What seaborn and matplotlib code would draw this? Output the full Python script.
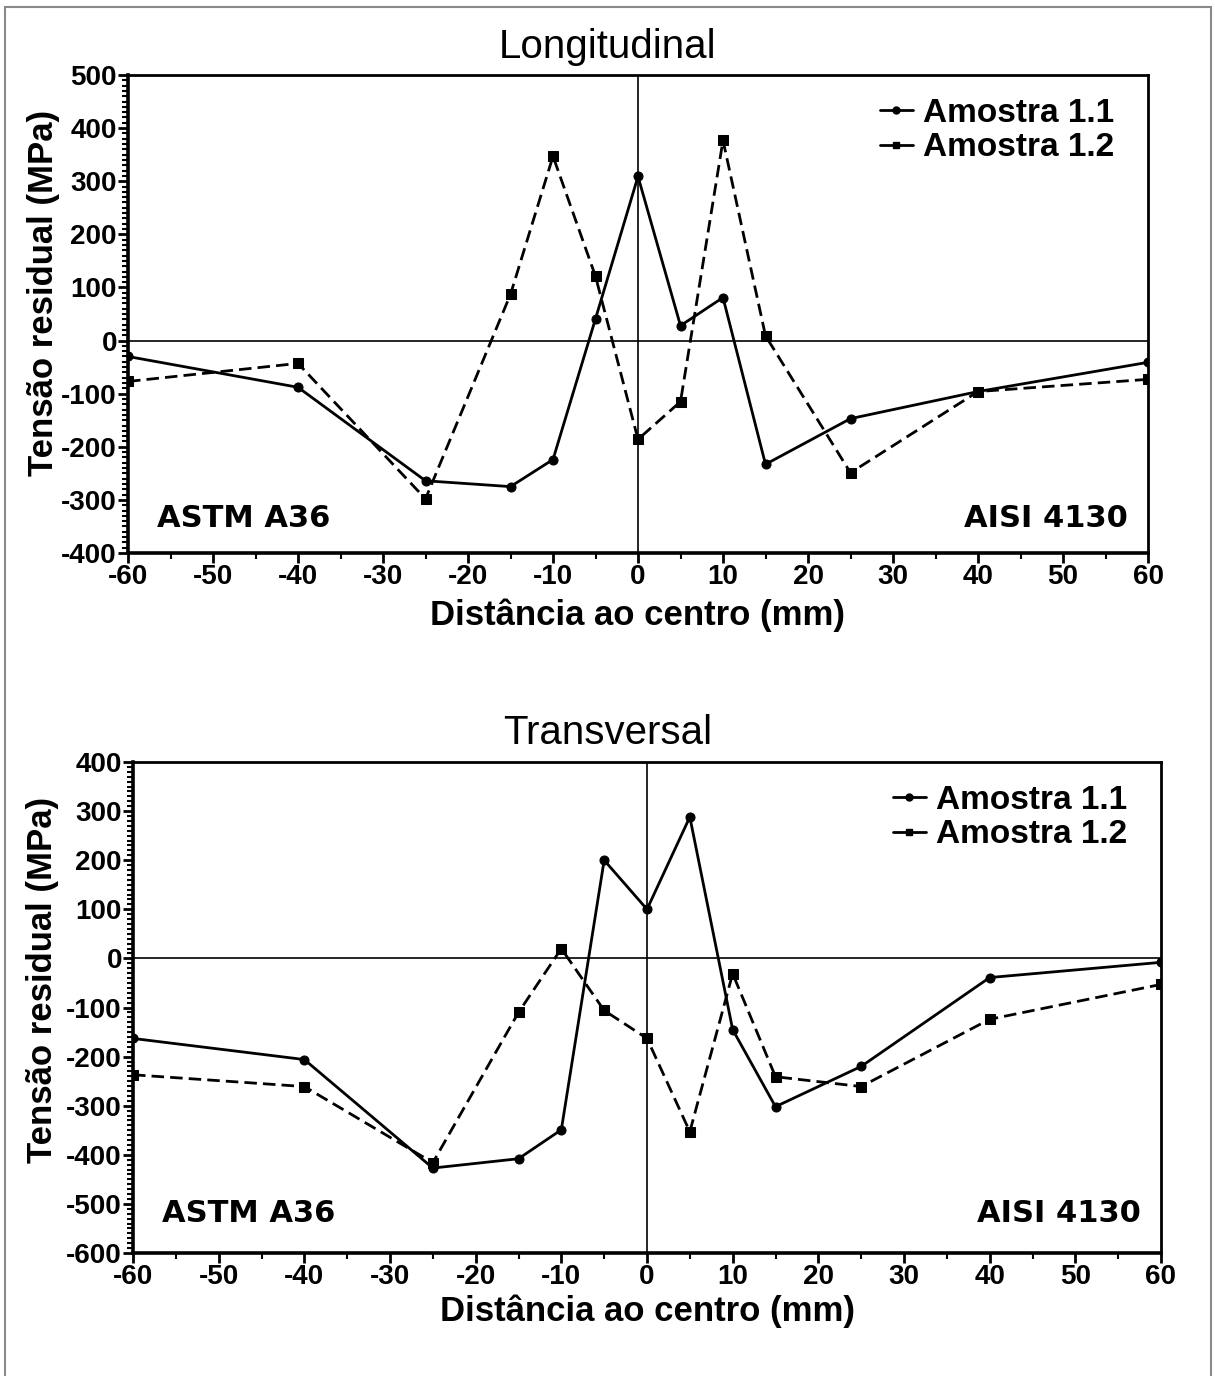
## Residual stress profiles across the weld (ASTM A36 / AISI 4130)
## two panels: longitudinal and transversal

import matplotlib
matplotlib.use("Agg")
import pandas as pd
import matplotlib.pyplot as plt
from matplotlib.ticker import MultipleLocator
from matplotlib.lines import Line2D
from matplotlib.patches import Rectangle
import seaborn as sns

## data (MPa)
distance = [-60, -40, -25, -15, -10, -5, 0, 5, 10, 15, 25, 40, 60]
samples = ["Amostra 1.1", "Amostra 1.2"]

long_a11 = [-30, -88, -264, -275, -224, 41, 309, 28, 81, -233, -147, -96, -41]
long_a12 = [-77, -43, -298, 87, 347, 121, -186, -115, 377, 9, -249, -96, -73]

trans_a11 = [-163, -206, -427, -408, -349, 200, 100, 288, -145, -302, -220, -39, -8]
trans_a12 = [-237, -261, -416, -110, 20, -106, -163, -353, -31, -241, -261, -124, -53]

## style
sns.set_theme(style="ticks")
plt.rcParams['font.family'] = ['Liberation Sans', 'DejaVu Sans']
plt.rcParams['axes.unicode_minus'] = False
for key in ['text.color', 'axes.labelcolor', 'xtick.color', 'ytick.color', 'axes.edgecolor']:
    plt.rcParams[key] = 'black'

W, H = 1215, 1376
fig = plt.figure(figsize=(W / 100, H / 100), dpi=100)
fig.patch.set_facecolor("white")

ax_top = fig.add_axes([128 / W, 1 - 553 / H, 1020 / W, 478 / H])
ax_bot = fig.add_axes([133 / W, 1 - 1253 / H, 1028 / W, 491 / H])


def draw_panel(ax, a11, a12, ylo, yhi, ylab_xy, xlab_y, leg_anchor, tag_y):
    df = pd.DataFrame({
        "x": distance + distance,
        "y": a11 + a12,
        "sample": [samples[0]] * len(distance) + [samples[1]] * len(distance),
    })

    # zero reference lines
    ax.axhline(0, color="black", lw=1.2, zorder=1)
    ax.axvline(0, color="black", lw=1.2, zorder=1)

    sns.lineplot(data=df, x="x", y="y", style="sample",
                 markers={samples[0]: "o", samples[1]: "s"},
                 dashes={samples[0]: "", samples[1]: (4.5, 2.2)},
                 color="black", linewidth=2.0, markersize=6.5,
                 markeredgecolor="black", sort=False, legend=False,
                 ax=ax, zorder=3)

    ax.set_xlim(-60, 60)
    ax.set_ylim(ylo, yhi)
    ax.xaxis.set_major_locator(MultipleLocator(10))
    ax.xaxis.set_minor_locator(MultipleLocator(5))
    ax.yaxis.set_major_locator(MultipleLocator(100))
    ax.yaxis.set_minor_locator(MultipleLocator(10))

    ax.tick_params(which="major", direction="out", length=7, width=2,
                   labelsize=20, pad=1, color="black")
    ax.tick_params(which="minor", direction="out", length=4, width=1.5,
                   color="black")
    for lab in ax.get_xticklabels() + ax.get_yticklabels():
        lab.set_fontweight("bold")

    for side in ["left", "bottom"]:
        ax.spines[side].set_linewidth(2.6)
    for side in ["top", "right"]:
        ax.spines[side].set_linewidth(2.0)

    ax.set_xlabel("Distância ao centro (mm)", fontsize=25, fontweight="bold")
    ax.set_ylabel("Tensão residual (MPa)", fontsize=25, fontweight="bold")
    ax.xaxis.set_label_coords(0.5, xlab_y)
    ax.xaxis.label.set_va("center")
    ax.yaxis.set_label_coords(ylab_xy[0], ylab_xy[1])
    ax.yaxis.label.set_va("center")

    handles = [
        Line2D([], [], color="black", lw=2.0, marker="o", markersize=5),
        Line2D([], [], color="black", lw=2.0, marker="s", markersize=5),
    ]
    ax.legend(handles, samples, loc="upper right", bbox_to_anchor=leg_anchor,
              frameon=False, handlelength=1.0, handletextpad=0.3,
              labelspacing=0.1, borderaxespad=0.0,
              prop={"family": "Liberation Sans", "weight": "bold", "size": 24})

    ax.text(0.028, tag_y, "ASTM A36", transform=ax.transAxes,
            ha="left", va="bottom", fontsize=22, fontweight="bold",
            family="DejaVu Sans")
    ax.text(0.98, tag_y, "AISI 4130", transform=ax.transAxes,
            ha="right", va="bottom", fontsize=22, fontweight="bold",
            family="DejaVu Sans")


draw_panel(ax_top, long_a11, long_a12, -400, 500,
           (-0.083, 0.545), -0.13, (0.98, 0.98), 0.042)
draw_panel(ax_bot, trans_a11, trans_a12, -600, 400,
           (-0.088, 0.556), -0.118, (0.98, 0.98), 0.05)

## panel titles (centred on the figure)
fig.text(0.5, 1 - 47 / H, "Longitudinal", ha="center", va="center", fontsize=29)
fig.text(0.5, 1 - 733 / H, "Transversal", ha="center", va="center", fontsize=29)

## thin grey frame round the whole picture
fig.add_artist(Rectangle((5 / W, -0.01), (1211 - 5) / W, (H - 7) / H + 0.01,
                         transform=fig.transFigure, fill=False,
                         edgecolor="#8a8a8a", lw=1.5))

fig.savefig("out.png", dpi=100)
